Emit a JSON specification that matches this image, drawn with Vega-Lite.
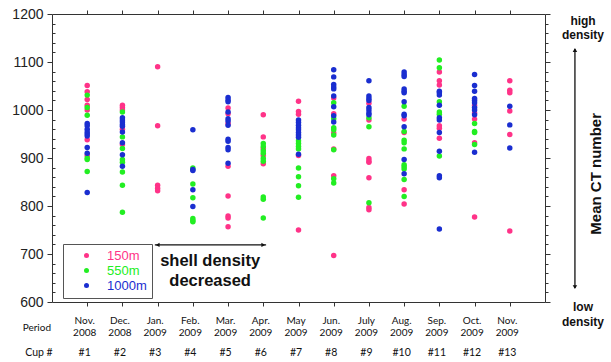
{
  "$schema": "https://vega.github.io/schema/vega-lite/v6.json",
  "width": 493,
  "height": 288,
  "autosize": {"type": "none"},
  "padding": {"left": 52, "top": 14, "right": 66, "bottom": 60},
  "background": "white",
  "config": {
    "view": {"stroke": null},
    "font": "Liberation Sans",
    "axis": {"grid": false, "domainColor": "#333", "tickColor": "#333", "domainWidth": 1, "tickWidth": 1, "title": null}
  },
  "datasets": {
    "ct": [
      {"cup":1,"depth":"150m","ct":1051},{"cup":1,"depth":"150m","ct":1038},{"cup":1,"depth":"150m","ct":1022},{"cup":1,"depth":"150m","ct":1010},{"cup":1,"depth":"150m","ct":1000},{"cup":1,"depth":"150m","ct":938},{"cup":1,"depth":"150m","ct":905},
      {"cup":2,"depth":"150m","ct":1010},{"cup":2,"depth":"150m","ct":1005},{"cup":2,"depth":"150m","ct":1000},{"cup":2,"depth":"150m","ct":960},{"cup":2,"depth":"150m","ct":928},
      {"cup":3,"depth":"150m","ct":1090},{"cup":3,"depth":"150m","ct":967},{"cup":3,"depth":"150m","ct":843},{"cup":3,"depth":"150m","ct":837},{"cup":3,"depth":"150m","ct":832},
      {"cup":5,"depth":"150m","ct":1004},{"cup":5,"depth":"150m","ct":992},{"cup":5,"depth":"150m","ct":972},{"cup":5,"depth":"150m","ct":883},{"cup":5,"depth":"150m","ct":821},{"cup":5,"depth":"150m","ct":779},{"cup":5,"depth":"150m","ct":775},{"cup":5,"depth":"150m","ct":757},
      {"cup":6,"depth":"150m","ct":990},{"cup":6,"depth":"150m","ct":944},{"cup":6,"depth":"150m","ct":920},{"cup":6,"depth":"150m","ct":905},{"cup":6,"depth":"150m","ct":888},
      {"cup":7,"depth":"150m","ct":1018},{"cup":7,"depth":"150m","ct":997},{"cup":7,"depth":"150m","ct":991},{"cup":7,"depth":"150m","ct":905},{"cup":7,"depth":"150m","ct":750},
      {"cup":8,"depth":"150m","ct":1025},{"cup":8,"depth":"150m","ct":992},{"cup":8,"depth":"150m","ct":952},{"cup":8,"depth":"150m","ct":919},{"cup":8,"depth":"150m","ct":863},{"cup":8,"depth":"150m","ct":697},
      {"cup":9,"depth":"150m","ct":1014},{"cup":9,"depth":"150m","ct":979},{"cup":9,"depth":"150m","ct":899},{"cup":9,"depth":"150m","ct":894},{"cup":9,"depth":"150m","ct":891},{"cup":9,"depth":"150m","ct":859},{"cup":9,"depth":"150m","ct":797},{"cup":9,"depth":"150m","ct":792},
      {"cup":10,"depth":"150m","ct":981},{"cup":10,"depth":"150m","ct":953},{"cup":10,"depth":"150m","ct":834},{"cup":10,"depth":"150m","ct":804},
      {"cup":11,"depth":"150m","ct":1079},{"cup":11,"depth":"150m","ct":1061},{"cup":11,"depth":"150m","ct":1052},{"cup":11,"depth":"150m","ct":967},{"cup":11,"depth":"150m","ct":962},{"cup":11,"depth":"150m","ct":941},
      {"cup":12,"depth":"150m","ct":1010},{"cup":12,"depth":"150m","ct":994},{"cup":12,"depth":"150m","ct":981},{"cup":12,"depth":"150m","ct":932},{"cup":12,"depth":"150m","ct":777},
      {"cup":13,"depth":"150m","ct":1061},{"cup":13,"depth":"150m","ct":1041},{"cup":13,"depth":"150m","ct":1036},{"cup":13,"depth":"150m","ct":998},{"cup":13,"depth":"150m","ct":949},{"cup":13,"depth":"150m","ct":748},

      {"cup":1,"depth":"550m","ct":1031},{"cup":1,"depth":"550m","ct":1005},{"cup":1,"depth":"550m","ct":989},{"cup":1,"depth":"550m","ct":900},{"cup":1,"depth":"550m","ct":897},{"cup":1,"depth":"550m","ct":872},
      {"cup":2,"depth":"550m","ct":996},{"cup":2,"depth":"550m","ct":944},{"cup":2,"depth":"550m","ct":920},{"cup":2,"depth":"550m","ct":897},{"cup":2,"depth":"550m","ct":891},{"cup":2,"depth":"550m","ct":871},{"cup":2,"depth":"550m","ct":843},{"cup":2,"depth":"550m","ct":787},
      {"cup":4,"depth":"550m","ct":879},{"cup":4,"depth":"550m","ct":846},{"cup":4,"depth":"550m","ct":817},{"cup":4,"depth":"550m","ct":774},{"cup":4,"depth":"550m","ct":770},{"cup":4,"depth":"550m","ct":767},
      {"cup":6,"depth":"550m","ct":930},{"cup":6,"depth":"550m","ct":924},{"cup":6,"depth":"550m","ct":915},{"cup":6,"depth":"550m","ct":910},{"cup":6,"depth":"550m","ct":899},{"cup":6,"depth":"550m","ct":893},{"cup":6,"depth":"550m","ct":819},{"cup":6,"depth":"550m","ct":814},{"cup":6,"depth":"550m","ct":775},
      {"cup":7,"depth":"550m","ct":936},{"cup":7,"depth":"550m","ct":930},{"cup":7,"depth":"550m","ct":924},{"cup":7,"depth":"550m","ct":919},{"cup":7,"depth":"550m","ct":879},{"cup":7,"depth":"550m","ct":861},{"cup":7,"depth":"550m","ct":842},{"cup":7,"depth":"550m","ct":818},
      {"cup":8,"depth":"550m","ct":1015},{"cup":8,"depth":"550m","ct":982},{"cup":8,"depth":"550m","ct":963},{"cup":8,"depth":"550m","ct":959},{"cup":8,"depth":"550m","ct":948},{"cup":8,"depth":"550m","ct":917},{"cup":8,"depth":"550m","ct":857},{"cup":8,"depth":"550m","ct":848},
      {"cup":9,"depth":"550m","ct":984},{"cup":9,"depth":"550m","ct":965},{"cup":9,"depth":"550m","ct":807},
      {"cup":10,"depth":"550m","ct":1008},{"cup":10,"depth":"550m","ct":955},{"cup":10,"depth":"550m","ct":937},{"cup":10,"depth":"550m","ct":932},{"cup":10,"depth":"550m","ct":919},{"cup":10,"depth":"550m","ct":886},{"cup":10,"depth":"550m","ct":882},{"cup":10,"depth":"550m","ct":877},{"cup":10,"depth":"550m","ct":855},{"cup":10,"depth":"550m","ct":820},
      {"cup":11,"depth":"550m","ct":1104},{"cup":11,"depth":"550m","ct":1088},{"cup":11,"depth":"550m","ct":1017},{"cup":11,"depth":"550m","ct":996},{"cup":11,"depth":"550m","ct":991},{"cup":11,"depth":"550m","ct":904},
      {"cup":12,"depth":"550m","ct":972},{"cup":12,"depth":"550m","ct":955},{"cup":12,"depth":"550m","ct":953},{"cup":12,"depth":"550m","ct":928},

      {"cup":1,"depth":"1000m","ct":972},{"cup":1,"depth":"1000m","ct":967},{"cup":1,"depth":"1000m","ct":960},{"cup":1,"depth":"1000m","ct":954},{"cup":1,"depth":"1000m","ct":950},{"cup":1,"depth":"1000m","ct":946},{"cup":1,"depth":"1000m","ct":922},{"cup":1,"depth":"1000m","ct":910},{"cup":1,"depth":"1000m","ct":828},
      {"cup":2,"depth":"1000m","ct":984},{"cup":2,"depth":"1000m","ct":979},{"cup":2,"depth":"1000m","ct":975},{"cup":2,"depth":"1000m","ct":970},{"cup":2,"depth":"1000m","ct":966},{"cup":2,"depth":"1000m","ct":954},{"cup":2,"depth":"1000m","ct":932},{"cup":2,"depth":"1000m","ct":907},{"cup":2,"depth":"1000m","ct":883},
      {"cup":4,"depth":"1000m","ct":959},{"cup":4,"depth":"1000m","ct":876},{"cup":4,"depth":"1000m","ct":874},{"cup":4,"depth":"1000m","ct":834},{"cup":4,"depth":"1000m","ct":799},
      {"cup":5,"depth":"1000m","ct":1026},{"cup":5,"depth":"1000m","ct":1021},{"cup":5,"depth":"1000m","ct":1017},{"cup":5,"depth":"1000m","ct":996},{"cup":5,"depth":"1000m","ct":982},{"cup":5,"depth":"1000m","ct":977},{"cup":5,"depth":"1000m","ct":968},{"cup":5,"depth":"1000m","ct":939},{"cup":5,"depth":"1000m","ct":935},{"cup":5,"depth":"1000m","ct":922},{"cup":5,"depth":"1000m","ct":917},{"cup":5,"depth":"1000m","ct":889},
      {"cup":7,"depth":"1000m","ct":979},{"cup":7,"depth":"1000m","ct":974},{"cup":7,"depth":"1000m","ct":968},{"cup":7,"depth":"1000m","ct":963},{"cup":7,"depth":"1000m","ct":959},{"cup":7,"depth":"1000m","ct":953},{"cup":7,"depth":"1000m","ct":948},{"cup":7,"depth":"1000m","ct":943},{"cup":7,"depth":"1000m","ct":908},
      {"cup":8,"depth":"1000m","ct":1084},{"cup":8,"depth":"1000m","ct":1069},{"cup":8,"depth":"1000m","ct":1053},{"cup":8,"depth":"1000m","ct":1048},{"cup":8,"depth":"1000m","ct":1044},{"cup":8,"depth":"1000m","ct":1029},{"cup":8,"depth":"1000m","ct":1007},{"cup":8,"depth":"1000m","ct":988},{"cup":8,"depth":"1000m","ct":975},
      {"cup":9,"depth":"1000m","ct":1061},{"cup":9,"depth":"1000m","ct":1029},{"cup":9,"depth":"1000m","ct":1024},{"cup":9,"depth":"1000m","ct":1020},{"cup":9,"depth":"1000m","ct":1005},{"cup":9,"depth":"1000m","ct":1000},{"cup":9,"depth":"1000m","ct":994},{"cup":9,"depth":"1000m","ct":990},
      {"cup":10,"depth":"1000m","ct":1079},{"cup":10,"depth":"1000m","ct":1074},{"cup":10,"depth":"1000m","ct":1070},{"cup":10,"depth":"1000m","ct":1044},{"cup":10,"depth":"1000m","ct":1039},{"cup":10,"depth":"1000m","ct":1036},{"cup":10,"depth":"1000m","ct":1017},{"cup":10,"depth":"1000m","ct":991},{"cup":10,"depth":"1000m","ct":988},{"cup":10,"depth":"1000m","ct":965},{"cup":10,"depth":"1000m","ct":897},{"cup":10,"depth":"1000m","ct":867},
      {"cup":11,"depth":"1000m","ct":1039},{"cup":11,"depth":"1000m","ct":1036},{"cup":11,"depth":"1000m","ct":1031},{"cup":11,"depth":"1000m","ct":1010},{"cup":11,"depth":"1000m","ct":984},{"cup":11,"depth":"1000m","ct":979},{"cup":11,"depth":"1000m","ct":953},{"cup":11,"depth":"1000m","ct":914},{"cup":11,"depth":"1000m","ct":863},{"cup":11,"depth":"1000m","ct":859},{"cup":11,"depth":"1000m","ct":752},
      {"cup":12,"depth":"1000m","ct":1074},{"cup":12,"depth":"1000m","ct":1051},{"cup":12,"depth":"1000m","ct":1039},{"cup":12,"depth":"1000m","ct":1024},{"cup":12,"depth":"1000m","ct":1020},{"cup":12,"depth":"1000m","ct":1015},{"cup":12,"depth":"1000m","ct":1005},{"cup":12,"depth":"1000m","ct":1000},{"cup":12,"depth":"1000m","ct":990},{"cup":12,"depth":"1000m","ct":912},
      {"cup":13,"depth":"1000m","ct":1008},{"cup":13,"depth":"1000m","ct":969},{"cup":13,"depth":"1000m","ct":921}
    ]
  },
  "layer": [
    {
      "data": {"name": "ct"},
      "mark": {"type": "circle", "size": 30, "opacity": 1},
      "encoding": {
        "x": {"field": "cup", "type": "quantitative", "scale": {"domain": [0, 14], "nice": false},
          "axis": {"orient": "bottom", "values": [1,2,3,4,5,6,7,8,9,10,11,12,13], "tickSize": 4,
            "labelExpr": "[['Nov.','2008'],['Dec.','2008'],['Jan.','2009'],['Feb.','2009'],['Mar.','2009'],['Apr.','2009'],['May','2009'],['Jun.','2009'],['July','2009'],['Aug.','2009'],['Sep.','2009'],['Oct.','2009'],['Nov.','2009']][datum.value-1]",
            "labelFont": "Lato", "labelFontSize": 10, "labelColor": "#111", "labelLineHeight": 12, "labelPadding": 9, "labelOffset": -3}},
        "y": {"field": "ct", "type": "quantitative", "scale": {"domain": [600, 1200], "nice": false},
          "axis": {"orient": "left", "values": [600,620,640,660,680,700,720,740,760,780,800,820,840,860,880,900,920,940,960,980,1000,1020,1040,1060,1080,1100,1120,1140,1160,1180,1200],
            "labelExpr": "datum.value % 100 === 0 ? datum.label : ''", "format": "d",
            "tickSize": {"condition": {"test": "datum.value % 100 === 0", "value": 5}, "value": -3},
            "labelFont": "Liberation Sans", "labelFontSize": 14, "labelColor": "#222", "labelPadding": 4}},
        "color": {"field": "depth", "type": "nominal",
          "scale": {"domain": ["150m", "550m", "1000m"], "range": ["#ff3388", "#22ee22", "#1a2ed0"]},
          "legend": {"orient": "none", "legendX": 11, "legendY": 230, "title": null, "padding": 5,
            "strokeColor": "#555", "fillColor": "white", "symbolSize": 25, "symbolType": "circle",
            "symbolOffset": 12, "labelOffset": 14, "labelFontSize": 13, "labelFont": "Liberation Sans",
            "rowPadding": 1, "symbolStrokeWidth": 0,
            "labelColor": {"expr": "scale('color', datum.value)"}}}
      }
    },
    {
      "data": {"name": "ct"},
      "mark": {"type": "circle", "opacity": 0},
      "encoding": {
        "x": {"field": "cup", "type": "quantitative", "axis": {"orient": "top", "values": [1,2,3,4,5,6,7,8,9,10,11,12,13], "labels": false, "tickSize": 4}},
        "y": {"field": "ct", "type": "quantitative", "axis": {"orient": "right", "values": [600,620,640,660,680,700,720,740,760,780,800,820,840,860,880,900,920,940,960,980,1000,1020,1040,1060,1080,1100,1120,1140,1160,1180,1200], "labels": false,
          "tickSize": {"condition": {"test": "datum.value % 100 === 0", "value": 5}, "value": 3}}}
      }
    },
    {
      "data": {"name": "ct"},
      "mark": {"type": "circle", "opacity": 0},
      "encoding": {
        "x": {"field": "cup", "type": "quantitative", "axis": {"orient": "bottom", "offset": 40, "domain": false, "ticks": false, "values": [1,2,3,4,5,6,7,8,9,10,11,12,13],
          "labelExpr": "'#' + datum.value", "labelFont": "Lato", "labelFontSize": 10.5, "labelColor": "#111", "labelPadding": 5, "labelOffset": -3}},
        "y": {"field": "ct", "type": "quantitative", "axis": null}
      }
    },
    {
      "data": {"values": [{}]},
      "mark": {"type": "text", "text": ["shell density", "decreased"], "font": "Liberation Sans", "fontWeight": "bold", "fontSize": 16.5, "lineHeight": 20, "align": "center", "baseline": "middle", "color": "#111"},
      "encoding": {"x": {"datum": 4.49, "type": "quantitative", "axis": null}, "y": {"datum": 685, "type": "quantitative", "axis": null}}
    },
    {
      "data": {"values": [{}]},
      "mark": {"type": "rule", "color": "#111", "strokeWidth": 1.3},
      "encoding": {"x": {"datum": 2.92, "type": "quantitative", "axis": null}, "x2": {"datum": 6.08}, "y": {"datum": 719, "type": "quantitative", "axis": null}}
    },
    {
      "data": {"values": [{}]},
      "mark": {"type": "point", "shape": "triangle-left", "filled": true, "color": "#111", "size": 20, "opacity": 1},
      "encoding": {"x": {"datum": 3.0, "type": "quantitative", "axis": null}, "y": {"datum": 719, "type": "quantitative", "axis": null}}
    },
    {
      "data": {"values": [{}]},
      "mark": {"type": "point", "shape": "triangle-right", "filled": true, "color": "#111", "size": 20, "opacity": 1},
      "encoding": {"x": {"datum": 6.0, "type": "quantitative", "axis": null}, "y": {"datum": 719, "type": "quantitative", "axis": null}}
    },
    {
      "data": {"values": [{}]},
      "mark": {"type": "text", "text": ["high", "density"], "font": "Liberation Sans", "fontWeight": "bold", "fontSize": 12, "lineHeight": 14.5, "align": "center", "baseline": "middle", "color": "#111"},
      "encoding": {"x": {"datum": 15.08, "type": "quantitative", "axis": null}, "y": {"datum": 1186, "type": "quantitative", "axis": null}}
    },
    {
      "data": {"values": [{}]},
      "mark": {"type": "text", "text": ["low", "density"], "font": "Liberation Sans", "fontWeight": "bold", "fontSize": 12, "lineHeight": 15, "align": "center", "baseline": "middle", "color": "#111"},
      "encoding": {"x": {"datum": 15.08, "type": "quantitative", "axis": null}, "y": {"datum": 590, "type": "quantitative", "axis": null}}
    },
    {
      "data": {"values": [{}]},
      "mark": {"type": "text", "text": "Mean CT number", "font": "Liberation Sans", "fontWeight": "bold", "fontSize": 15, "angle": 270, "align": "center", "baseline": "middle", "color": "#111"},
      "encoding": {"x": {"datum": 15.45, "type": "quantitative", "axis": null}, "y": {"datum": 867, "type": "quantitative", "axis": null}}
    },
    {
      "data": {"values": [{}]},
      "mark": {"type": "rule", "color": "#111", "strokeWidth": 1.3},
      "encoding": {"x": {"datum": 14.85, "type": "quantitative", "axis": null}, "y": {"datum": 1127, "type": "quantitative", "axis": null}, "y2": {"datum": 629}}
    },
    {
      "data": {"values": [{}]},
      "mark": {"type": "point", "shape": "triangle-up", "filled": true, "color": "#111", "size": 20, "opacity": 1},
      "encoding": {"x": {"datum": 14.85, "type": "quantitative", "axis": null}, "y": {"datum": 1125, "type": "quantitative", "axis": null}}
    },
    {
      "data": {"values": [{}]},
      "mark": {"type": "point", "shape": "triangle-down", "filled": true, "color": "#111", "size": 20, "opacity": 1},
      "encoding": {"x": {"datum": 14.85, "type": "quantitative", "axis": null}, "y": {"datum": 631, "type": "quantitative", "axis": null}}
    },
    {
      "data": {"values": [{}]},
      "mark": {"type": "text", "text": "Period", "font": "Lato", "fontSize": 10, "align": "center", "baseline": "middle", "color": "#111"},
      "encoding": {"x": {"datum": -0.43, "type": "quantitative", "axis": null}, "y": {"datum": 546, "type": "quantitative", "axis": null}}
    },
    {
      "data": {"values": [{}]},
      "mark": {"type": "text", "text": "Cup #", "font": "Lato", "fontSize": 10.5, "align": "center", "baseline": "middle", "color": "#111"},
      "encoding": {"x": {"datum": -0.37, "type": "quantitative", "axis": null}, "y": {"datum": 494, "type": "quantitative", "axis": null}}
    }
  ],
  "resolve": {"axis": {"x": "independent", "y": "independent"}}
}
